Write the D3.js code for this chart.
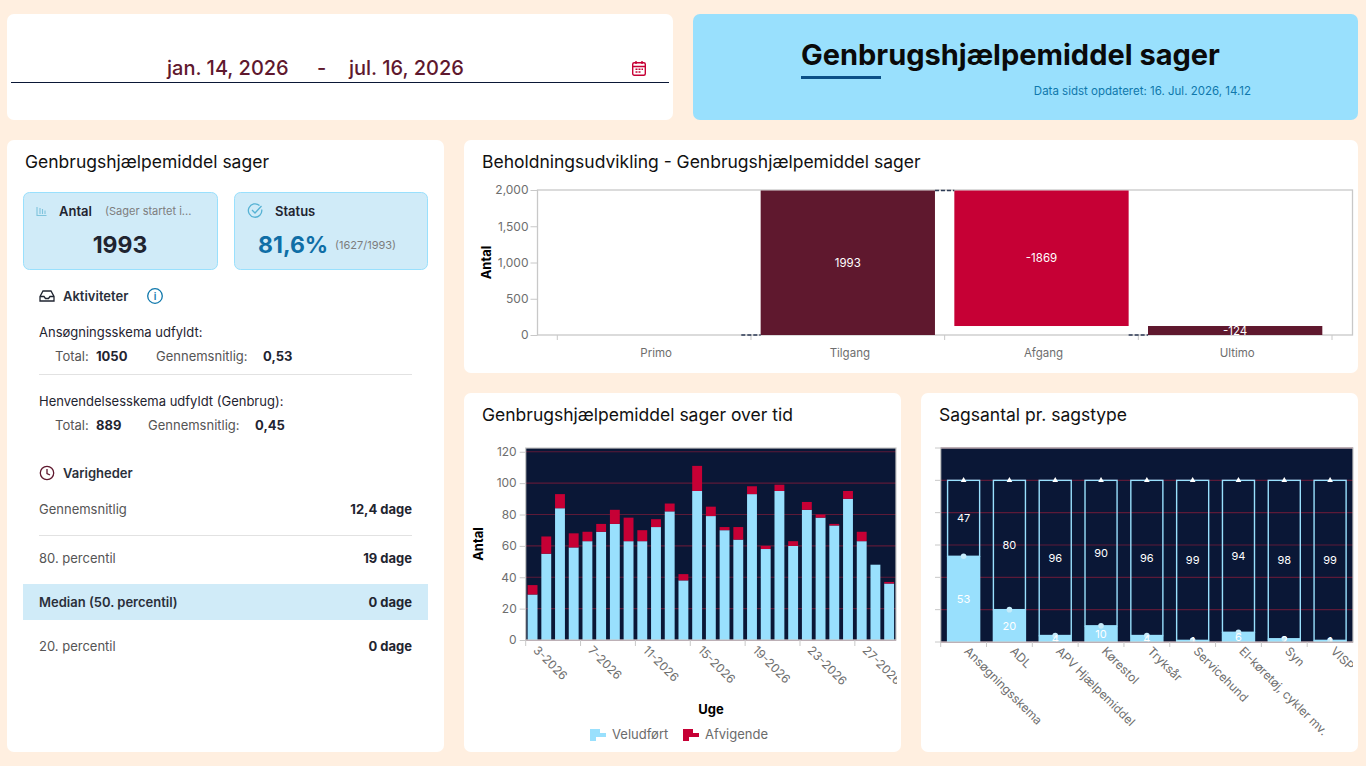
<!DOCTYPE html>
<html>
<head>
<meta charset="utf-8">
<title>Genbrugshjælpemiddel sager</title>
<script src="https://cdn.jsdelivr.net/npm/d3@7"></script>
<style>
  html, body { margin: 0; padding: 0; background: #ffefe0; }
  svg { display: block; }
  text { font-family: Inter, "Noto Sans", sans-serif; }
</style>
</head>
<body>
<div id="viz"></div>
<script>
// Beholdningsudvikling
var flowCategories = ["Primo", "Tilgang", "Afgang", "Ultimo"];
var flowStart = [0, 0, 1993, 0];
var flowEnd = [0, 1993, 124, 124];
var flowLabels = ["", "1993", "-1869", "-124"];
var flowTicks = [0, 500, 1000, 1500, 2000];

// Sager over tid
var weeks = ["3-2026", "4-2026", "5-2026", "6-2026", "7-2026", "8-2026", "9-2026", "10-2026", "11-2026",
             "12-2026", "13-2026", "14-2026", "15-2026", "16-2026", "17-2026", "18-2026", "19-2026",
             "20-2026", "21-2026", "22-2026", "23-2026", "24-2026", "25-2026", "26-2026", "27-2026",
             "28-2026", "29-2026"];
var veludfoert = [29, 55, 84, 59, 63, 69, 74, 63, 63, 72, 82, 38, 95, 79, 70, 64, 93, 58, 95, 60, 83, 78, 73, 90, 63, 48, 36];
var afvigende = [6, 11, 9, 9, 6, 5, 9, 15, 7, 5, 5, 4, 16, 6, 2, 8, 5, 2, 4, 3, 5, 2, 1, 5, 6, 0, 1];
var weekTickLabels = ["3-2026", "7-2026", "11-2026", "15-2026", "19-2026", "23-2026", "27-2026"];
var timeTicks = [0, 20, 40, 60, 80, 100, 120];

// Sagsantal pr. sagstype
var caseTypes = ["Ansøgningsskema", "ADL", "APV Hjælpemiddel", "Kørestol", "Tryksår", "Servicehund",
                 "El-køretøj, cykler mv.", "Syn", "VISP"];
var caseDone = [53, 20, 4, 10, 4, 1, 6, 2, 1];
var caseRest = [47, 80, 96, 90, 96, 99, 94, 98, 99];
var caseTicks = [0, 20, 40, 60, 80, 100, 120];

var cream = "#ffefe0",
    lightBlue = "#99e0fd",
    paleBlue = "#d0ebf8",
    navy = "#0a1736",
    wine = "#5f182e",
    red = "#c60035",
    gridRed = "#5c1a38",
    axisGrey = "#c8c8c8",
    tickText = "#6e6e6e",
    ink = "#111111";

var svg = d3.select("#viz").append("svg").attr("width", 1366).attr("height", 766);
var defs = svg.append("defs");

function card(x, y, w, h, fill) {
    svg.append("rect").attr("x", x).attr("y", y).attr("width", w).attr("height", h)
       .attr("rx", 7).attr("fill", fill || "#fff");
}

function label(g, x, y, str, size, weight, color, anchor) {
    return g.append("text").attr("x", x).attr("y", y).text(str)
            .attr("font-size", size).attr("font-weight", weight || 400)
            .attr("fill", color || ink).attr("text-anchor", anchor || "start");
}

card(7, 14, 666, 106);
card(693, 14, 665, 106, lightBlue);
card(7, 140, 437, 612);
card(464, 140, 894, 233);
card(464, 393, 437, 359);
card(921, 393, 437, 359);

/* ---------- header ---------- */
label(svg, 167, 75, "jan. 14, 2026", 20, 500, wine);
label(svg, 317, 75, "-", 20, 500, wine);
label(svg, 349, 75, "jul. 16, 2026", 20, 500, wine);
svg.append("line").attr("x1", 11).attr("x2", 669).attr("y1", 82.5).attr("y2", 82.5)
   .attr("stroke", navy).attr("stroke-width", 1);

var cal = svg.append("g").attr("transform", "translate(632,61)")
             .attr("fill", "none").attr("stroke", red).attr("stroke-width", 1.4);
cal.append("rect").attr("x", 0.7).attr("y", 1.7).attr("width", 12.6).attr("height", 12.6).attr("rx", 1.5);
cal.append("path").attr("d", "M0.7 5.5H13.3M4 0V3M10 0V3M3.5 8.2H5.5M6.5 8.2H8.5M9.5 8.2H11M3.5 11H5.5M6.5 11H8.5");

label(svg, 801, 65, "Genbrugshjælpemiddel sager", 29, 700, "#0a0a0a");
svg.append("rect").attr("x", 801).attr("y", 76).attr("width", 80).attr("height", 3).attr("fill", "#0a4f86");
label(svg, 1251, 95, "Data sidst opdateret: 16. Jul. 2026, 14.12", 11.5, 400, "#0f78ac", "end");

/* ---------- left panel ---------- */
label(svg, 25, 168, "Genbrugshjælpemiddel sager", 17.5, 400);

function kpi(x, w) {
    svg.append("rect").attr("x", x + 0.5).attr("y", 192.5).attr("width", w).attr("height", 77)
       .attr("rx", 6).attr("fill", paleBlue).attr("stroke", lightBlue);
}
kpi(23, 194);
kpi(234, 193);

var bars = svg.append("g").attr("stroke", "#7fc4dc").attr("stroke-width", 1.1);
bars.append("path").attr("d", "M37 207V215.5H46.5M40 208V214M42.5 209V214M45 210.500V214").attr("fill", "none");
label(svg, 59, 216, "Antal", 13, 600, "#1f2430");
label(svg, 105, 215, "(Sager startet i...", 11, 400, "#7d7d7d");
label(svg, 120, 253, "1993", 23, 700, "#1f2430", "middle");

var check = svg.append("g").attr("fill", "none").attr("stroke", "#56b2d4").attr("stroke-width", 1.3);
check.append("path").attr("d", "M259.500 205.500A6.700 6.700 0 1 0 261.700 209.500");
check.append("path").attr("d", "M252 210L255 213L261.500 206");
label(svg, 275, 216, "Status", 13, 600, "#1f2430");
label(svg, 258, 253, "81,6%", 23, 700, "#0f6ea6");
label(svg, 335, 249, "(1627/1993)", 11, 400, "#7d7d7d");

var tray = svg.append("g").attr("fill", "none").attr("stroke", "#1f2430").attr("stroke-width", 1.3);
tray.append("path").attr("d", "M40 296.500L43 291H51L54 296.500V301H40ZM40 296.500H44L45.500 298.500H48.500L50 296.500H54");
label(svg, 63, 301, "Aktiviteter", 13, 600, "#2a2f3a");
svg.append("circle").attr("cx", 155).attr("cy", 296).attr("r", 7.3)
   .attr("fill", "none").attr("stroke", "#0f78ac").attr("stroke-width", 1.3);
label(svg, 155, 300, "i", 10, 600, "#0f78ac", "middle");

label(svg, 39, 337, "Ansøgningsskema udfyldt:", 13, 400, "#1f2430");
label(svg, 55, 361, "Total:", 13, 400, "#555");
label(svg, 96, 361, "1050", 13, 700, "#1f2430");
label(svg, 156, 361, "Gennemsnitlig:", 13, 400, "#555");
label(svg, 263, 361, "0,53", 13, 700, "#1f2430");
svg.append("line").attr("x1", 39).attr("x2", 412).attr("y1", 374.5).attr("y2", 374.5).attr("stroke", "#e2e2e2");

label(svg, 39, 406, "Henvendelsesskema udfyldt (Genbrug):", 13, 400, "#1f2430");
label(svg, 55, 430, "Total:", 13, 400, "#555");
label(svg, 96, 430, "889", 13, 700, "#1f2430");
label(svg, 148, 430, "Gennemsnitlig:", 13, 400, "#555");
label(svg, 255, 430, "0,45", 13, 700, "#1f2430");

var clock = svg.append("g").attr("fill", "none").attr("stroke", wine).attr("stroke-width", 1.3);
clock.append("circle").attr("cx", 47).attr("cy", 473).attr("r", 6.7);
clock.append("path").attr("d", "M47 469V473.500L50 475");
label(svg, 63, 478, "Varigheder", 13, 600, "#2a2f3a");

label(svg, 39, 514, "Gennemsnitlig", 13, 400, "#555");
label(svg, 412, 514, "12,4 dage", 13, 700, "#1f2430", "end");
svg.append("line").attr("x1", 39).attr("x2", 412).attr("y1", 535.5).attr("y2", 535.5).attr("stroke", "#e2e2e2");
label(svg, 39, 563, "80. percentil", 13, 400, "#555");
label(svg, 412, 563, "19 dage", 13, 700, "#1f2430", "end");
svg.append("rect").attr("x", 23).attr("y", 584).attr("width", 405).attr("height", 36).attr("fill", paleBlue);
label(svg, 39, 607, "Median (50. percentil)", 13, 600, "#2a2f3a");
label(svg, 412, 607, "0 dage", 13, 700, "#1f2430", "end");
label(svg, 39, 651, "20. percentil", 13, 400, "#555");
label(svg, 412, 651, "0 dage", 13, 700, "#1f2430", "end");

/* ---------- chart helpers ---------- */
function styleAxis(g) {
    g.selectAll("path").attr("stroke", axisGrey);
    g.selectAll("line").attr("stroke", axisGrey);
    g.selectAll("text").attr("fill", tickText).attr("font-size", 12);
}

/* ---------- Beholdningsudvikling ---------- */
label(svg, 482, 168, "Beholdningsudvikling - Genbrugshjælpemiddel sager", 17.5, 400);

var flowX = d3.scaleBand().domain(flowCategories).range([557.3, 1332]).paddingInner(0.1).paddingOuter(0.05),
    flowY = d3.scaleLinear().domain([0, 2000]).range([335, 190]);

svg.append("rect").attr("x", 537.5).attr("y", 190).attr("width", 815).attr("height", 145)
   .attr("fill", "#fff").attr("stroke", axisGrey).attr("stroke-width", 1.3);

svg.append("g").attr("transform", "translate(537.5,0)")
   .call(d3.axisLeft(flowY).tickValues(flowTicks).tickSize(7).tickPadding(2))
   .call(styleAxis).call(function(g) { g.select("path").remove(); });

var flowAxis = svg.append("g").attr("transform", "translate(0,335)");
flowAxis.selectAll("line").data(d3.range(flowCategories.length + 1)).enter().append("line")
   .attr("x1", function(d) { return flowX.step() * d + flowX.range()[0]; })
   .attr("x2", function(d) { return flowX.step() * d + flowX.range()[0]; })
   .attr("y1", 0).attr("y2", 5).attr("stroke", axisGrey);
flowAxis.selectAll("text").data(flowCategories).enter().append("text")
   .attr("x", function(d) { return flowX(d) + flowX.bandwidth() / 2 + 2; })
   .attr("y", 22).attr("text-anchor", "middle").attr("font-size", 11.5).attr("fill", tickText)
   .text(function(d) { return d; });

svg.append("text").attr("transform", "translate(491,262.5) rotate(-90)")
   .attr("text-anchor", "middle").attr("font-size", 13).attr("font-weight", 700).attr("fill", "#000").text("Antal");

flowCategories.forEach(function(c, i) {
    var top = Math.max(flowStart[i], flowEnd[i]), bottom = Math.min(flowStart[i], flowEnd[i]);
    if (top > bottom) {
        svg.append("rect").attr("x", flowX(c)).attr("width", flowX.bandwidth())
           .attr("y", flowY(top)).attr("height", flowY(bottom) - flowY(top))
           .attr("fill", i == 2 ? red : wine);
    }
    if (i > 0) {
        svg.append("line").attr("x1", flowX(flowCategories[i - 1]) + flowX.bandwidth()).attr("x2", flowX(c))
           .attr("y1", flowY(flowStart[i])).attr("y2", flowY(flowStart[i]))
           .attr("stroke", "#2c3a55").attr("stroke-width", 1.6).attr("stroke-dasharray", "4 2");
    }
    if (flowLabels[i]) {
        label(svg, flowX(c) + flowX.bandwidth() / 2, flowY((top + bottom) / 2) + 4, flowLabels[i], 11.5, 400,
              "#fff", "middle");
    }
});

/* ---------- over tid ---------- */
label(svg, 482, 421, "Genbrugshjælpemiddel sager over tid", 17.5, 400);

var timeX = d3.scaleBand().domain(weeks).range([525.7, 896]).paddingInner(0.28).paddingOuter(0.14),
    timeY = d3.scaleLinear().domain([0, 122.4]).range([640, 448]);

defs.append("clipPath").attr("id", "timeClip").append("rect")
    .attr("x", 464).attr("y", 400).attr("width", 433).attr("height", 350);

svg.append("rect").attr("x", 525.7).attr("y", 448).attr("width", 370.3).attr("height", 192).attr("fill", navy);

svg.append("g").selectAll("line").data(timeTicks).enter().append("line")
   .attr("x1", 525.7).attr("x2", 896)
   .attr("y1", function(d) { return timeY(d); }).attr("y2", function(d) { return timeY(d); })
   .attr("stroke", gridRed).attr("stroke-width", 1.2);

var timeBars = svg.append("g");
weeks.forEach(function(w, i) {
    timeBars.append("rect").attr("x", timeX(w)).attr("width", timeX.bandwidth())
            .attr("y", timeY(veludfoert[i])).attr("height", timeY(0) - timeY(veludfoert[i]))
            .attr("fill", lightBlue);
    if (afvigende[i] > 0) {
        timeBars.append("rect").attr("x", timeX(w)).attr("width", timeX.bandwidth())
                .attr("y", timeY(veludfoert[i] + afvigende[i]))
                .attr("height", timeY(veludfoert[i]) - timeY(veludfoert[i] + afvigende[i]))
                .attr("fill", red);
    }
});

svg.append("rect").attr("x", 525.7).attr("y", 448).attr("width", 370.3).attr("height", 192)
   .attr("fill", "none").attr("stroke", axisGrey).attr("stroke-width", 1.2);

svg.append("g").attr("transform", "translate(525.7,0)")
   .call(d3.axisLeft(timeY).tickValues(timeTicks).tickSize(6).tickPadding(3))
   .call(styleAxis).call(function(g) { g.select("path").remove(); });

var timeAxis = svg.append("g").attr("clip-path", "url(#timeClip)");
weekTickLabels.forEach(function(w) {
    var x = timeX(w) - timeX.step() * 0.14;
    timeAxis.append("line").attr("x1", x).attr("x2", x).attr("y1", 640).attr("y2", 646).attr("stroke", axisGrey);
    timeAxis.append("text").attr("transform", "translate(" + (timeX(w) + timeX.bandwidth() / 2) + ",651) rotate(45)")
            .attr("font-size", 12).attr("fill", tickText).text(w);
});

label(svg, 711, 714, "Uge", 13, 700, "#000", "middle");
svg.append("text").attr("transform", "translate(483,544) rotate(-90)")
   .attr("text-anchor", "middle").attr("font-size", 13).attr("font-weight", 700).attr("fill", "#000").text("Antal");

function legendIcon(x, color) {
    var g = svg.append("g").attr("fill", color);
    g.append("rect").attr("x", x).attr("y", 729).attr("width", 10).attr("height", 4);
    g.append("rect").attr("x", x).attr("y", 733).attr("width", 16).attr("height", 4);
    g.append("rect").attr("x", x).attr("y", 737).attr("width", 6).attr("height", 4);
}
legendIcon(590, lightBlue);
label(svg, 612, 739, "Veludført", 13, 400, "#6b6b6b");
legendIcon(683, red);
label(svg, 705, 739, "Afvigende", 13, 400, "#6b6b6b");

/* ---------- pr. sagstype ---------- */
label(svg, 939, 421, "Sagsantal pr. sagstype", 17.5, 400);

var caseX = d3.scaleBand().domain(caseTypes).range([940.7, 1353]).paddingInner(0.27).paddingOuter(0.135),
    caseY = d3.scaleLinear().domain([0, 120]).range([642, 448]);

defs.append("clipPath").attr("id", "caseClip").append("rect")
    .attr("x", 925).attr("y", 400).attr("width", 428).attr("height", 350);
defs.append("clipPath").attr("id", "casePlot").append("rect")
    .attr("x", 940.7).attr("y", 448).attr("width", 412.3).attr("height", 194);

svg.append("rect").attr("x", 940.7).attr("y", 448).attr("width", 412.3).attr("height", 194).attr("fill", navy);
svg.append("g").selectAll("line").data(caseTicks).enter().append("line")
   .attr("x1", 940.7).attr("x2", 1353)
   .attr("y1", function(d) { return caseY(d); }).attr("y2", function(d) { return caseY(d); })
   .attr("stroke", gridRed).attr("stroke-width", 1.2);

var caseG = svg.append("g").attr("clip-path", "url(#casePlot)");
caseTypes.forEach(function(c, i) {
    var x = caseX(c), w = caseX.bandwidth(), cx = x + w / 2;
    caseG.append("rect").attr("x", x).attr("width", w).attr("y", caseY(caseDone[i]))
         .attr("height", caseY(0) - caseY(caseDone[i])).attr("fill", lightBlue);
    caseG.append("rect").attr("x", x + 0.7).attr("width", w - 1.4).attr("y", caseY(caseDone[i] + caseRest[i]))
         .attr("height", caseY(caseDone[i]) - caseY(caseDone[i] + caseRest[i]))
         .attr("fill", "none").attr("stroke", lightBlue).attr("stroke-width", 1.4);
    caseG.append("circle").attr("cx", cx).attr("cy", caseY(caseDone[i])).attr("r", 2.8).attr("fill", "#c6ecfb");
    caseG.append("path").attr("d", d3.symbol().type(d3.symbolTriangle).size(14))
         .attr("transform", "translate(" + cx + "," + caseY(caseDone[i] + caseRest[i]) + ")").attr("fill", "#fff");
    caseG.append("text").attr("x", cx).attr("y", caseY(caseDone[i] / 2) + 4).attr("text-anchor", "middle")
         .attr("font-size", 11).attr("fill", "#fff").text(caseDone[i]);
    caseG.append("text").attr("x", cx).attr("y", caseY(caseDone[i] + caseRest[i] / 2) + 4).attr("text-anchor", "middle")
         .attr("font-size", 11).attr("fill", "#fff").text(caseRest[i]);
});

svg.append("rect").attr("x", 940.7).attr("y", 448).attr("width", 412.3).attr("height", 194)
   .attr("fill", "none").attr("stroke", axisGrey).attr("stroke-width", 1.2);

var caseLeft = svg.append("g");
caseLeft.selectAll("line").data(caseTicks).enter().append("line")
   .attr("x1", 935).attr("x2", 940.7)
   .attr("y1", function(d) { return caseY(d); }).attr("y2", function(d) { return caseY(d); })
   .attr("stroke", axisGrey);

var caseAxis = svg.append("g").attr("clip-path", "url(#caseClip)");
caseTypes.forEach(function(c) {
    var x = caseX(c) - caseX.step() * 0.135;
    caseAxis.append("line").attr("x1", x).attr("x2", x).attr("y1", 642).attr("y2", 647).attr("stroke", axisGrey);
    caseAxis.append("text").attr("transform", "translate(" + (caseX(c) + caseX.bandwidth() / 2) + ",652) rotate(45)")
            .attr("font-size", 12).attr("fill", tickText).text(c);
});
</script>
</body>
</html>
